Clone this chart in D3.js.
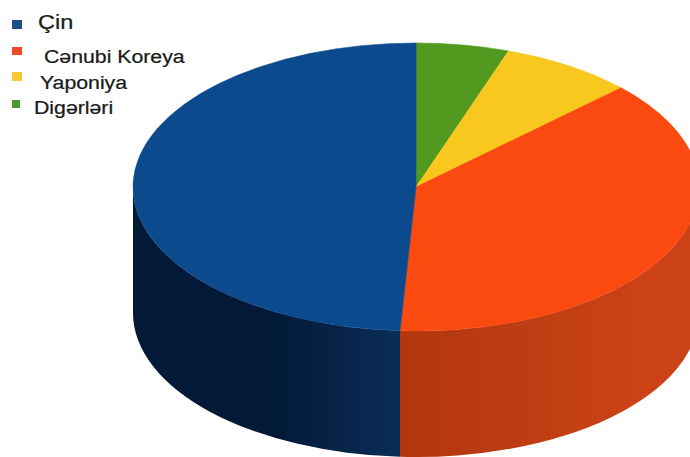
<!DOCTYPE html>
<html>
<head>
<meta charset="utf-8">
<script src="https://cdn.jsdelivr.net/npm/d3@7"></script>
<style>
  html, body { margin: 0; padding: 0; background: #fff; }
  svg { display: block; }
  text { font-family: "Liberation Sans", Arial, sans-serif; fill: #1a1a1a; }
</style>
</head>
<body>
<svg id="chart" width="690" height="457"></svg>
<script>
// Share of production, legend order
const categories = ["Çin", "Cənubi Koreya", "Yaponiya", "Digərləri"];
const values = [49.1, 38.0, 7.6, 5.3];
const topColors = ["#0b4a8d", "#fa4a0f", "#f8c81e", "#519a1f"];
const sideDark = ["#021a37", "#b1360e", "#c99a10", "#3a7014"];
const sideLight = ["#0a2d58", "#ca4216", "#e0b018", "#468218"];
const legendColors = ["#1d4f8c", "#f0492a", "#f7c935", "#4b9a33"];

const svg = d3.select("#chart");

// Ellipse geometry of the tilted disc
const cx = 416, cy = 187, rx = 283, ry = 144, depth = 126;

// Slices run clockwise from 12 o'clock: Digərləri, Yaponiya, Cənubi Koreya, Çin
const order = [3, 2, 1, 0];
const pie = d3.pie().sort(null).value(i => values[i]).startAngle(0).endAngle(2 * Math.PI);
const arcs = pie(order);

const px = a => cx + rx * Math.sin(a);
const py = (a, dy = 0) => cy + dy - ry * Math.cos(a);

const defs = svg.append("defs");
categories.forEach((c, i) => {
  const g = defs.append("linearGradient")
    .attr("id", "side" + i)
    .attr("gradientUnits", "userSpaceOnUse")
    .attr("x1", cx - rx).attr("x2", cx + rx).attr("y1", 0).attr("y2", 0);
  if (i === 0) {
    g.append("stop").attr("offset", 0).attr("stop-color", sideDark[i]);
    g.append("stop").attr("offset", 0.25).attr("stop-color", sideDark[i]);
    g.append("stop").attr("offset", 0.48).attr("stop-color", sideLight[i]);
  } else {
    g.append("stop").attr("offset", 0.46).attr("stop-color", sideDark[i]);
    g.append("stop").attr("offset", 0.88).attr("stop-color", sideLight[i]);
    g.append("stop").attr("offset", 1).attr("stop-color", sideLight[i]);
  }
});

// Side walls: only the front half (angles between π/2 and 3π/2) is visible
const sides = svg.append("g");
arcs.forEach(d => {
  const a0 = Math.max(d.startAngle, Math.PI / 2);
  const a1 = Math.min(d.endAngle, 3 * Math.PI / 2);
  if (a1 <= a0) return;
  const large = (a1 - a0) > Math.PI ? 1 : 0;
  const p = [
    "M", px(a0), py(a0),
    "A", rx, ry, 0, large, 1, px(a1), py(a1),
    "L", px(a1), py(a1, depth),
    "A", rx, ry, 0, large, 0, px(a0), py(a0, depth),
    "Z"
  ].join(" ");
  sides.append("path").attr("d", p).attr("fill", `url(#side${d.data})`);
});

// Top faces
const tops = svg.append("g");
arcs.forEach(d => {
  const a0 = d.startAngle, a1 = d.endAngle;
  const large = (a1 - a0) > Math.PI ? 1 : 0;
  const p = [
    "M", cx, cy,
    "L", px(a0), py(a0),
    "A", rx, ry, 0, large, 1, px(a1), py(a1),
    "Z"
  ].join(" ");
  tops.append("path").attr("d", p)
    .attr("fill", topColors[d.data])
    .attr("stroke", topColors[d.data]).attr("stroke-width", 0.6);
});

// Legend
const legend = svg.append("g");
const legendItems = [
  { sq: [12, 20, 10, 9], tx: 38, ty: 29 },
  { sq: [12, 47, 10, 8], tx: 44, ty: 63 },
  { sq: [12, 72, 10, 9], tx: 40, ty: 89 },
  { sq: [12, 100, 8, 8], tx: 34, ty: 114 }
];
categories.forEach((c, i) => {
  const it = legendItems[i];
  legend.append("rect")
    .attr("x", it.sq[0]).attr("y", it.sq[1])
    .attr("width", it.sq[2]).attr("height", it.sq[3])
    .attr("fill", legendColors[i]);
  legend.append("text")
    .attr("x", it.tx).attr("y", it.ty)
    .attr("font-size", i === 0 ? 21 : 19)
    .attr("stroke", "#1a1a1a").attr("stroke-width", 0.25)
    .attr("transform", `translate(${it.tx},0) scale(1.12,1) translate(${-it.tx},0)`)
    .text(c);
});
</script>
</body>
</html>
